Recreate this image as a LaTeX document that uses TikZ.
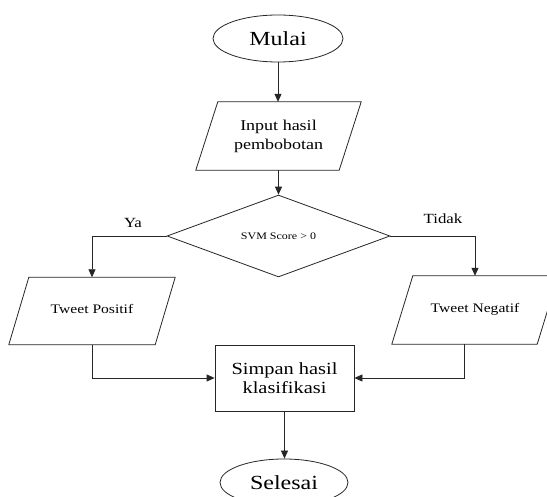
\documentclass[tikz,border=0pt]{standalone}
\usepackage{fontspec}
\setmainfont{Liberation Serif}[FakeStretch=1.2]
\usetikzlibrary{shapes.geometric,arrows.meta,calc}
\newcommand\paradraw[2]{\draw[shapeline] ($(#1.north west)+(#2,0)$) -- ($(#1.north east)+(#2,0)$) -- ($(#1.south east)+(-#2,0)$) -- ($(#1.south west)+(-#2,0)$) -- cycle;}
\begin{document}
\begin{tikzpicture}[x=1pt,y=-1pt,
  shapeline/.style={draw=black!85, line width=0.8pt},
  term/.style={ellipse, shapeline, minimum width=130pt, minimum height=47pt, inner sep=0pt, font=\fontsize{20}{24}\selectfont},
  iobox/.style={rectangle, inner sep=0pt, align=center},
  procbox/.style={rectangle, shapeline, inner sep=0pt, align=center, font=\fontsize{17}{19}\selectfont},
  decbox/.style={diamond, shapeline, minimum width=223pt, minimum height=68pt, inner sep=0pt, font=\fontsize{10}{12}\selectfont},
  arr/.style={draw=black!85, line width=0.8pt, -{Triangle[length=8pt,width=7pt]}},
  conn/.style={draw=black!85, line width=0.8pt},
  lab/.style={font=\fontsize{14}{16}\selectfont}]
\useasboundingbox (0,0) rectangle (547,497);
\clip (0,0) rectangle (547,497);
\fill[white] (0,0) rectangle (547,497);

\node[term] (mulai) at (278,38.5) {Mulai};
\node[iobox, minimum width=143pt, minimum height=68pt, font=\fontsize{15}{19}\selectfont] (input) at (278.5,136) {Input hasil\\pembobotan};
\paradraw{input}{11}
\node[decbox] (svm) at (278.5,236) {SVM Score > 0};
\node[iobox, minimum width=146pt, minimum height=67pt, font=\fontsize{13}{15}\selectfont] (pos) at (92,311) {\raisebox{4pt}{Tweet Positif}};
\paradraw{pos}{10}
\node[iobox, minimum width=145pt, minimum height=68pt, font=\fontsize{13}{15}\selectfont] (neg) at (475,310) {\raisebox{4pt}{Tweet Negatif}};
\paradraw{neg}{10.5}
\node[procbox, minimum width=139pt, minimum height=66pt] (simpan) at (284.5,378) {Simpan hasil\\klasifikasi};
\node[term, minimum width=128pt] (selesai) at (284,482.5) {Selesai};

\draw[arr] (mulai.south) -- (mulai.south |- input.north);
\draw[arr] (input.south) -- (svm.north);
\draw[arr] (svm.west) -| (pos.north);
\draw[arr] (svm.east) -| (neg.north);
\draw[arr] (pos.south) |- (simpan.west);
\draw[arr] ([xshift=-11pt]neg.south) |- (simpan.east);
\draw[arr] (simpan.south) -- (simpan.south |- selesai.north);

\node[lab] (ya) at (133,223) {Ya};
\node[lab] (tidak) at (443,219) {Tidak};
\end{tikzpicture}
\end{document}
